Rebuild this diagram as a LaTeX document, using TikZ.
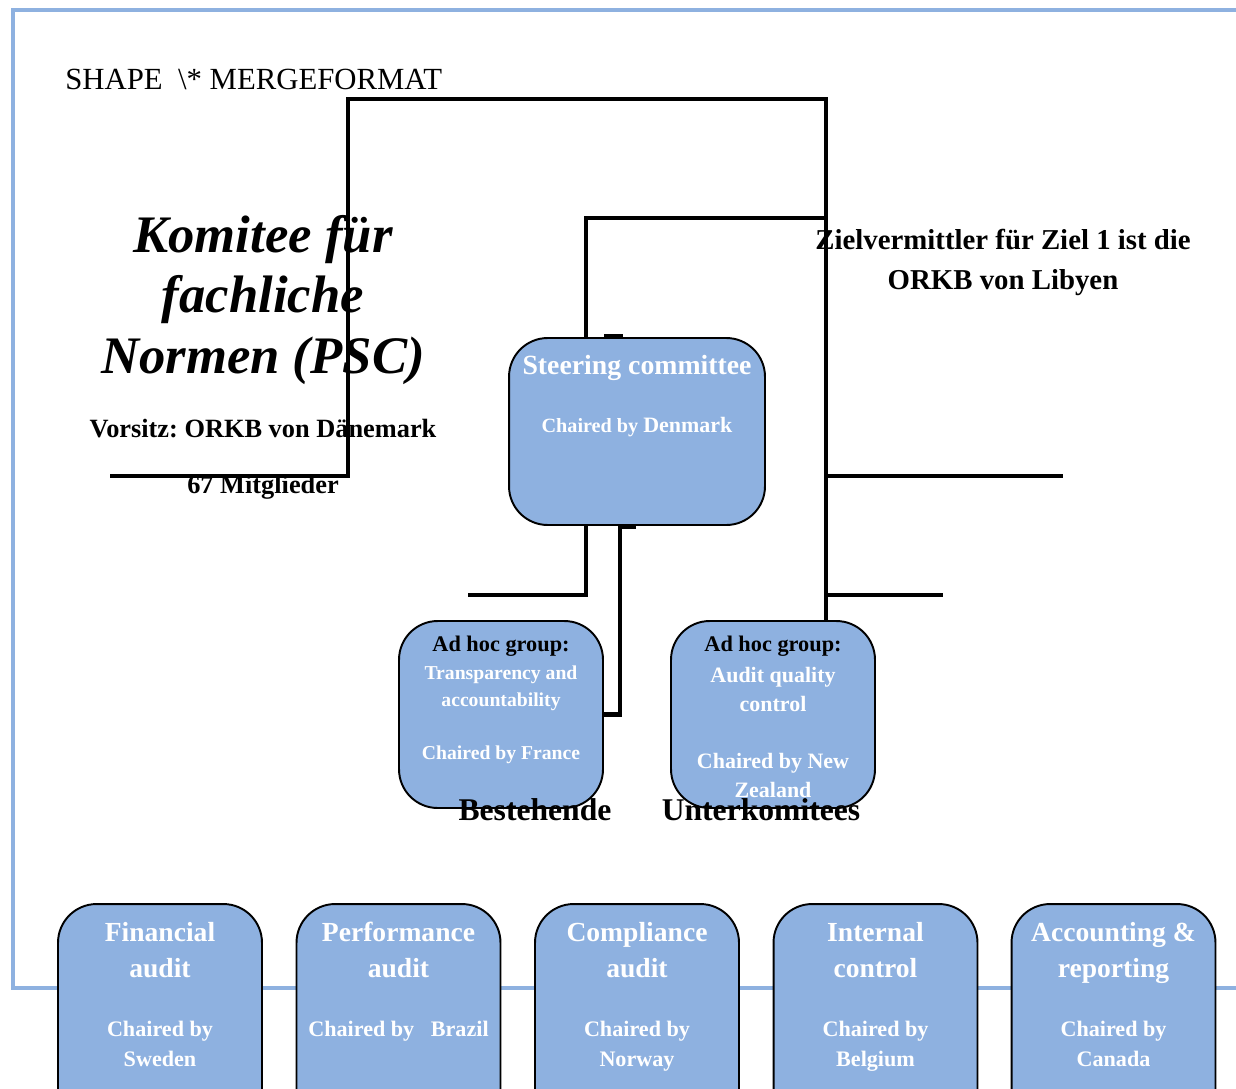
\documentclass[tikz,border=0pt]{standalone}
\usepackage{fontspec}
\setmainfont{Liberation Serif}
\frenchspacing
\usetikzlibrary{calc}
\definecolor{psblue}{HTML}{8EB1E0}
\tikzset{
        frameline/.style={draw=psblue, line width=2.8pt},
        wire/.style={draw=black, line width=2.8pt},
        panel/.style={draw=black, fill=psblue, line width=1.1pt, rounded corners=22pt, inner sep=0pt},
        steerbox/.style={panel, minimum width=5.12cm, minimum height=3.74cm},
        adhocbox/.style={panel, minimum width=4.08cm, minimum height=3.74cm},
        subbox/.style={panel, minimum width=4.08cm, minimum height=4.6cm},
        fieldtext/.style={inner sep=0pt, font=\fontsize{17.5}{21}\selectfont},
        titletext/.style={inner sep=0pt, align=center, font=\fontsize{30}{34.6}\selectfont\bfseries\itshape},
        infotext/.style={inner sep=0pt, font=\fontsize{15}{18}\selectfont\bfseries},
        goaltext/.style={inner sep=0pt, align=center, font=\fontsize{16.4}{22.7}\selectfont\bfseries},
        bigtext/.style={inner sep=0pt, font=\fontsize{18}{21}\selectfont\bfseries},
        steerhead/.style={inner sep=0pt, text=white, font=\fontsize{15.8}{19}\selectfont\bfseries},
        steerchair/.style={inner sep=0pt, text=white, font=\fontsize{11.5}{14}\selectfont\bfseries},
        adhochead/.style={inner sep=0pt, font=\fontsize{12.7}{15}\selectfont\bfseries},
        transptext/.style={inner sep=0pt, align=center, text=white, font=\fontsize{11.2}{15.3}\selectfont\bfseries},
        aqctext/.style={inner sep=0pt, align=center, text=white, font=\fontsize{12.5}{16.7}\selectfont\bfseries},
        subhead/.style={inner sep=0pt, anchor=north, align=center, text=white, font=\fontsize{15.7}{20.4}\selectfont\bfseries},
        subchair/.style={inner sep=0pt, anchor=north, align=center, text=white, font=\fontsize{12.6}{17}\selectfont\bfseries}
}
\begin{document}
\begin{tikzpicture}[x=0.02cm, y=-0.02cm]
        \useasboundingbox (0,0) rectangle (1236,1088);
        \clip (0,0) rectangle (1236,1088);
        \draw[frameline] (1250,10) -- (13,10) -- (13,988) -- (1250,988);

        \node[fieldtext, anchor=west] (field) at (65,79) {SHAPE\ \ \textbackslash* MERGEFORMAT};

        \node[titletext] (title) at (263,300) {Komitee für\\fachliche\\Normen (PSC)};
        \node[infotext] (chair) at (263,429) {Vorsitz: ORKB von Dänemark};
        \node[infotext] (members) at (263,487) {67 Mitglieder};
        \node[goaltext] (goal) at (1003,262.5) {Zielvermittler für Ziel 1 ist die\\ORKB von Libyen};

        \node[steerbox] (steer) at (637,431.5) {};
        \node[steerhead] (steert) at ($(steer.north)+(0,31)$) {Steering committee};
        \node[steerchair] (steerc) at ($(steer.north)+(0,90)$) {Chaired by {\fontsize{12.5}{14}\selectfont Denmark}};

        \node[adhocbox] (transp) at (501,714.5) {};
        \node[adhochead] (transph) at ($(transp.north)+(0,26)$) {Ad hoc group:};
        \node[transptext] (transpt) at ($(transp.north)+(0,68.5)$) {Transparency and\\accountability};
        \node[transptext] (transpc) at ($(transp.north)+(0,135)$) {Chaired by France};

        \node[adhocbox] (aqc) at (773,714.5) {};
        \node[adhochead] (aqch) at ($(aqc.north)+(0,26)$) {Ad hoc group:};
        \node[aqctext] (aqct) at ($(aqc.north)+(0,69.5)$) {Audit quality\\control};
        \node[aqctext] (aqcc) at ($(aqc.north)+(0,155.5)$) {Chaired by New\\Zealand};

        \node[bigtext] (existing) at (535,810) {Bestehende};
        \node[bigtext] (subcom) at (761,810) {Unterkomitees};

        \node[subbox] (fin) at (160,1019) {};
        \node[subhead] (fint) at ($(fin.north)+(0,18.6)$) {Financial\\audit};
        \node[subchair] (finc) at ($(fin.north)+(0,117.5)$) {Chaired by\\Sweden};

        \node[subbox] (perf) at (398.5,1019) {};
        \node[subhead] (perft) at ($(perf.north)+(0,18.6)$) {Performance\\audit};
        \node[subchair] (perfc) at ($(perf.north)+(0,117.5)$) {Chaired by\ \ \ Brazil};

        \node[subbox] (compl) at (637,1019) {};
        \node[subhead] (complt) at ($(compl.north)+(0,18.6)$) {Compliance\\audit};
        \node[subchair] (complc) at ($(compl.north)+(0,117.5)$) {Chaired by\\Norway};

        \node[subbox] (intctl) at (875.5,1019) {};
        \node[subhead] (intctlt) at ($(intctl.north)+(0,18.6)$) {Internal\\control};
        \node[subchair] (intctlc) at ($(intctl.north)+(0,117.5)$) {Chaired by\\Belgium};

        \node[subbox] (acct) at (1113.5,1019) {};
        \node[subhead] (acctt) at ($(acct.north)+(0,18.6)$) {Accounting \&\\reporting};
        \node[subchair] (acctc) at ($(acct.north)+(0,117.5)$) {Chaired by\\Canada};

        \coordinate (wa) at (110,476);
        \coordinate (wb) at (348,99);
        \coordinate (wc) at (826,99);
        \coordinate (wd) at (586,218);
        \coordinate (we) at (468,595);
        \coordinate (wf) at (620,595);
        \coordinate (wg) at (1063,476);
        \coordinate (wh) at (943,595);

        \draw[wire] (wa) -| (wb) -- (wc) -- (aqc.north -| wc);
        \draw[wire] (steer.north -| wd) |- (wc |- wd);
        \draw[wire] (steer.south -| wd) |- (we);
        \draw[wire] (steer.south -| wf) |- (transp.east);
        \draw[wire] (wc |- wa) -- (wg);
        \draw[wire] (wc |- wh) -- (wh);
        \draw[wire, line width=2pt] ($(steer.north)+(-33,-1)$) -- ($(steer.north)+(-14,-1)$);
        \draw[wire, line width=2pt] ($(steer.south)+(-17,1)$) -- ($(steer.south)+(-1,1)$);
\end{tikzpicture}
\end{document}
